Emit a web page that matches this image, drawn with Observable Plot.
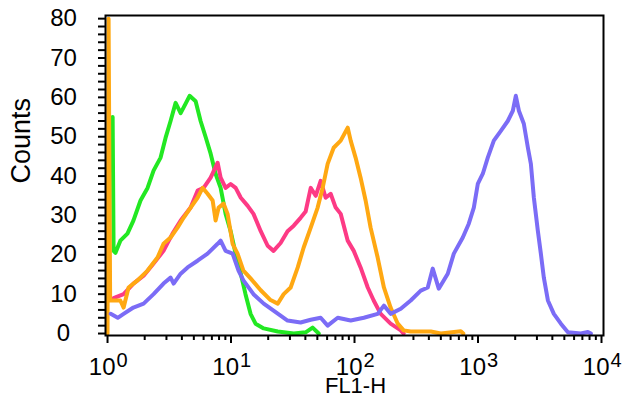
<!DOCTYPE html>
<html><head><meta charset="utf-8">
<script src="https://cdn.jsdelivr.net/npm/d3@7"></script>
<script src="https://cdn.jsdelivr.net/npm/@observablehq/plot@0.6"></script>
<style>body{margin:0;background:#fff;}</style>
</head><body><div id="chart"></div>
<script>
// Tick labels
const decades = [1, 10, 100, 1000, 10000];
const exponents = ["0", "1", "2", "3", "4"];
const yTicks = [0, 10, 20, 30, 40, 50, 60, 70, 80];

// Series: FL1-H channel value and counts
const greenFL = [1.10,1.12,1.16,1.27,1.45,1.62,1.85,2.11,2.36,2.69,2.95,3.24,3.56,3.91,4.29,4.62,5.17,5.67,6.22,6.84,7.50,8.24,9.04,9.93,10.9,12.0,13.1,14.4,15.8,18.4,23.9,32.2,40.2,45.8,51.3];
const greenCounts = [55,21,20.5,23.6,25.4,28.7,33.8,37,41.4,44.7,49.7,54,58.6,56,58.4,60.4,59,54,50,45.7,40.6,37,30.4,26,20.3,15.2,10,5,2.5,1.3,0.5,0,0.3,1.5,0];

const pinkFL = [1.12,1.35,1.62,1.96,2.36,2.84,3.36,3.91,4.71,5.36,6.00,6.84,7.79,8.24,9.04,9.93,10.9,12.0,13.6,15.2,17.4,19.8,22.1,25.2,28.7,32.2,36.6,40.2,44.2,48.5,53.2,58.4,64.1,70.4,77.3,88.1,98.6,112,128,143,163,196,237,250];
const pinkCounts = [9,10,12.7,14.7,17.8,21,25.4,28.7,32,36.3,37,39.6,43.4,39.6,37,38,37,34.5,32.5,30.4,26,22.3,21,23,26,27.4,29.4,31,37,35,38.8,34.5,35.5,32,30.4,23.6,21,16.8,11.7,8.4,5,2.5,0.8,0];

const orangeFL = [1.0,1.02,1.05,1.10,1.27,1.35,1.48,1.75,2.11,2.54,2.84,3.24,3.69,4.13,4.71,5.36,5.89,6.46,7.10,7.50,7.94,8.71,9.38,10.3,11.3,12.6,14.4,17.4,20.9,23.9,26.7,30.4,34.7,38.7,44.2,50.3,55.2,60.6,67.8,77.3,88.1,93.1,102,112,123,135,154,173,196,224,250,285,415,500,725,760];
const orangeCounts = [0,80,8.4,8.4,8.4,6.6,11.7,13.5,16,19.3,22.8,24.4,26.9,29.4,32,34.5,37,35.5,33.8,28.7,32,33,30.4,22.8,20.3,16,14,11,8.5,7.6,10,11.7,16.8,21.8,26.9,32,37,43.1,47.2,49,52.3,49,44.7,39.6,33.8,26.9,19.3,11.7,6.6,2.5,0.8,0.5,0.5,0,0.6,0];

const purpleFL = [1.06,1.21,1.35,1.62,1.96,2.36,2.84,3.24,3.43,3.91,4.45,5.36,6.46,7.79,8.24,9.04,10.3,11.5,12.6,15.2,18.4,22.1,28.7,36.6,44.2,53.2,60.6,73.1,93.1,119,154,173,196,237,285,344,392,430,481,569,637,753,842,925,996,1094,1200,1343,1531,1742,1915,2024,2143,2350,2535,2680,2834,3055,3228,3413,3681,4113,4690,5346,6808,7762,8206];
const purpleCounts = [5,4,5,6.6,7.6,10,12.7,14.2,12.7,15.2,16.8,18.5,20.3,22.8,23.6,21,20.3,16,13.5,10,7.6,5.8,3.3,2.8,3.5,4,2,4,3.3,4,5,7.1,5,6.3,8.4,10.9,11.7,16.5,11.4,15.2,20.3,24.4,27.9,32,38,40.6,44.7,49,51.5,54,56.6,60.4,56.6,53.3,47.2,43.1,34.5,26,20.3,14.2,8.4,5,2.5,0.3,0,0.4,0];

const rows = (xs, ys) => xs.map((x, i) => ({x, y: ys[i]}));
const series = [
  {color: "#22e822", data: rows(greenFL, greenCounts)},
  {color: "#fd3a85", data: rows(pinkFL, pinkCounts)},
  {color: "#ffa812", data: rows(orangeFL, orangeCounts)},
  {color: "#7b6cf6", data: rows(purpleFL, purpleCounts)}
];
const minorTicks = decades.slice(0, -1).flatMap(d => [2,3,4,5,6,7,8,9].map(k => k * d));
const yMinor = d3.range(0, 81, 2);

const chart = Plot.plot({
  width: 622, height: 403,
  marginLeft: 105, marginRight: 19, marginTop: 15, marginBottom: 68,
  style: {fontFamily: "'Liberation Sans', Arial, sans-serif", background: "white", color: "black"},
  x: {type: "log", domain: [0.963, 10380]},
  y: {domain: [-0.5, 80.8]},
  marks: [
    ...series.map(s => Plot.line(s.data, {x: "x", y: "y", stroke: s.color, strokeWidth: 4, strokeLinejoin: "round"})),
    Plot.frame({stroke: "black", strokeWidth: 2}),
    Plot.axisX({ticks: decades, tickSize: 8, tickFormat: () => "", strokeWidth: 2, label: null}),
    Plot.axisX({ticks: minorTicks, tickSize: 5, tickFormat: () => "", strokeWidth: 2, label: null}),
    Plot.axisY({ticks: yMinor, tickSize: 7, tickFormat: () => "", strokeWidth: 2, label: null}),
    Plot.axisY({ticks: yTicks, tickSize: 0, tickPadding: 42, textAnchor: "middle", fontSize: 24, label: null}),
    Plot.text(decades, {x: d => d, text: () => "10", frameAnchor: "bottom", textAnchor: "end", lineAnchor: "middle", dx: 8, dy: 32, fontSize: 24, fill: "black"}),
    Plot.text(decades, {x: d => d, text: (d, i) => exponents[i], frameAnchor: "bottom", textAnchor: "start", lineAnchor: "middle", dx: 9, dy: 25, fontSize: 20, fill: "black"}),
    Plot.text(["Counts"], {text: d => d, frameAnchor: "left", rotate: -90, dx: -84, dy: 8, fontSize: 27, fill: "black"}),
    Plot.text(["FL1-H"], {text: d => d, frameAnchor: "bottom", dx: 1, dy: 57, fontSize: 22, fill: "black"})
  ]
});
document.getElementById("chart").appendChild(chart);
</script>
</body></html>
